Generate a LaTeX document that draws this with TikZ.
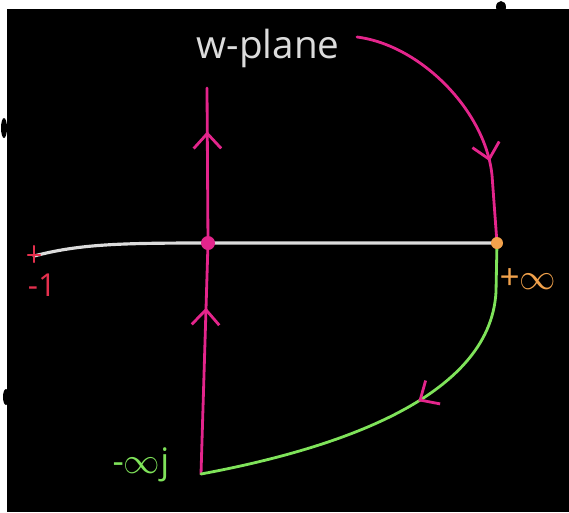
\documentclass[tikz,border=0pt]{standalone}
\usepackage{fontspec}
\setsansfont{Open Sans}
\usetikzlibrary{arrows.meta,decorations.markings}
\definecolor{board}{HTML}{000000}
\definecolor{chalk}{HTML}{DCDCDC}
\definecolor{pen}{HTML}{E4258C}
\definecolor{grass}{HTML}{7FE35A}
\definecolor{amber}{HTML}{F2A24C}
\definecolor{rose}{HTML}{E5304E}
\tikzset{
  axisline/.style={draw=chalk, line width=1.8pt, line cap=round},
  pinkpath/.style={draw=pen, line width=1.6pt, line cap=round},
  greenpath/.style={draw=grass, line width=1.6pt, line cap=round},
  mid arrow/.style={postaction={decorate, decoration={markings,
      mark=at position #1 with {\arrow[line width=1.6pt, pen]{Straight Barb[length=3mm,width=5.5mm]}}}}},
  tag/.style={font=\sffamily\fontsize{20}{22}\selectfont, inner sep=1pt}
}

\begin{document}
\begin{tikzpicture}[x=0.02cm, y=-0.02cm]
  \useasboundingbox (0,0) rectangle (569,512);
  \fill[white] (0,0) rectangle (569,512);
  \fill[board] (7,9) rectangle (569,512);
  % stray marks on the edge
  \fill[board] (501,7) ellipse (5 and 6);
  \fill[board] (4,128) ellipse (3 and 10);
  \fill[board] (6,397) ellipse (3 and 8);

  % points of the contour
  \coordinate (minusone) at (34,256);
  \coordinate (origin) at (208,243);
  \coordinate (infty) at (497,243);
  \coordinate (top) at (207,88);
  \coordinate (bottom) at (201,474);
  \coordinate (arcstart) at (357,37);

  % real axis
  \draw[axisline] (minusone) .. controls (80,244) and (120,243) .. (origin) -- (infty);
  \draw[rose, line width=1.2pt, line cap=round] (34,246) -- (34,262) (28,255) -- (40,255);

  % imaginary axis
  \draw[pinkpath, mid arrow=0.72] (bottom) -- (origin);
  \draw[pinkpath, mid arrow=0.72] (origin) -- (top);

  % large arc
  \draw[pinkpath, mid arrow=0.7] (arcstart) .. controls (420,45) and (485,110) .. (492,175) -- (infty);
  \draw[greenpath, mid arrow=0.45] (infty) -- (496,292) .. controls (490,400) and (330,450) .. (bottom);

  % dots
  \fill[pen] (origin) circle (7);
  \fill[amber] (infty) circle (6);

  % labels
  \node[tag, text=chalk, font=\sffamily\fontsize{22}{24}\selectfont] (plane) at (268,48) {w-plane};
  \node[tag, text=rose, font=\sffamily\fontsize{18}{20}\selectfont] (lbl1) at (42,285) {-1};
  \node[tag, text=amber] (lblinf) at (528,279) {+$\infty$};
  \node[tag, text=grass] (lbljinf) at (141,465) {-$\infty$j};
\end{tikzpicture}
\end{document}
